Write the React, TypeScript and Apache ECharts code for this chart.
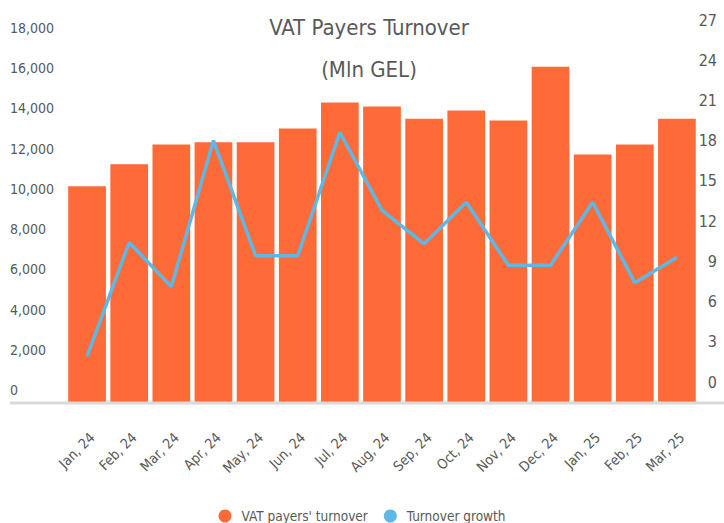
import React, { useEffect, useRef } from "react";
import * as echarts from "echarts";

const categories = [
  "Jan, 24", "Feb, 24", "Mar, 24", "Apr, 24", "May, 24", "Jun, 24", "Jul, 24",
  "Aug, 24", "Sep, 24", "Oct, 24", "Nov, 24", "Dec, 24", "Jan, 25", "Feb, 25", "Mar, 25",
];
const turnover = [
  10730, 11820, 12810, 12920, 12920, 13600, 14890, 14690, 14090, 14490, 14000, 16670, 12310, 12810, 14090,
];
const growth = [
  3.4, 11.9, 8.6, 19.5, 10.9, 10.9, 20.1, 14.3, 11.8, 14.9, 10.2, 10.2, 14.9, 8.9, 10.8,
];
const leftTicks = { min: 0, max: 18000, interval: 2000 };
const rightTicks = { min: 0, max: 27, interval: 3 };

const FONT = "'Liberation Sans Narrow', 'DejaVu Sans Condensed', 'Roboto', sans-serif";
const TEXT = "#595959";
const ORANGE = "#FF6B38";
const BLUE = "#5DB8E5";

export default function App() {
  const ref = useRef<HTMLDivElement>(null);
  useEffect(() => {
    if (!ref.current) return;
    const chart = echarts.init(ref.current, undefined, { renderer: "svg" });
    chart.setOption({
      animation: false,
      textStyle: { fontFamily: FONT },
      title: {
        text: "VAT Payers Turnover\n(Mln GEL)",
        left: 369,
        textAlign: "center",
        top: 6,
        padding: 0,
        textStyle: { fontFamily: FONT, fontSize: 22, fontWeight: "normal", color: TEXT, lineHeight: 42 },
      },
      legend: {
        bottom: -5,
        left: "center",
        icon: "circle",
        itemWidth: 13,
        itemHeight: 13,
        itemGap: 16,
        formatter: (name: string) => "{t|" + name + "}",
        textStyle: {
          fontFamily: FONT,
          fontSize: 13.5,
          color: TEXT,
          rich: { t: { fontFamily: FONT, fontSize: 13.5, color: TEXT, padding: [0, 0, 0, 5] } },
        },
        data: ["VAT payers' turnover", "Turnover growth"],
      },
      grid: { left: 66, right: 26, top: 38, bottom: 121, containLabel: false },
      xAxis: {
        type: "category",
        data: categories,
        axisLine: { show: false },
        axisTick: { show: false },
        axisLabel: {
          rotate: 45,
          margin: 28,
          verticalAlign: "top",
          fontFamily: FONT,
          fontSize: 14,
          color: TEXT,
          interval: 0,
        },
      },
      yAxis: [
        {
          type: "value",
          ...leftTicks,
          splitLine: { show: false },
          axisLine: { show: false },
          axisTick: { show: false },
          axisLabel: {
            align: "left",
            margin: 56,
            verticalAlign: "bottom",
            lineHeight: 24,
            showMinLabel: true,
            showMaxLabel: true,
            fontFamily: FONT,
            fontSize: 14,
            color: TEXT,
            formatter: (v: number) => v.toLocaleString("en-US"),
          },
        },
        {
          type: "value",
          ...rightTicks,
          position: "right",
          splitLine: { show: false },
          axisLine: { show: false },
          axisTick: { show: false },
          axisLabel: {
            align: "right",
            margin: 19,
            verticalAlign: "bottom",
            lineHeight: 40,
            showMinLabel: true,
            showMaxLabel: true,
            hideOverlap: false,
            fontFamily: FONT,
            fontSize: 16,
            color: TEXT,
          },
        },
      ],
      graphic: [
        {
          type: "line",
          z: 10,
          shape: { x1: 10, y1: 403, x2: 724, y2: 403 },
          style: { stroke: "#D9D9D9", lineWidth: 3 },
        },
      ],
      series: [
        {
          name: "VAT payers' turnover",
          type: "bar",
          data: turnover,
          yAxisIndex: 0,
          barCategoryGap: "10.5%",
          itemStyle: { color: ORANGE },
        },
        {
          name: "Turnover growth",
          type: "line",
          data: growth,
          yAxisIndex: 1,
          symbol: "none",
          lineStyle: { color: BLUE, width: 3.5 },
          itemStyle: { color: BLUE },
        },
      ],
    });
    return () => chart.dispose();
  }, []);
  return (
    <div
      ref={ref}
      style={{ position: "absolute", left: 0, top: 0, width: 724, height: 523, background: "#fff" }}
    />
  );
}
